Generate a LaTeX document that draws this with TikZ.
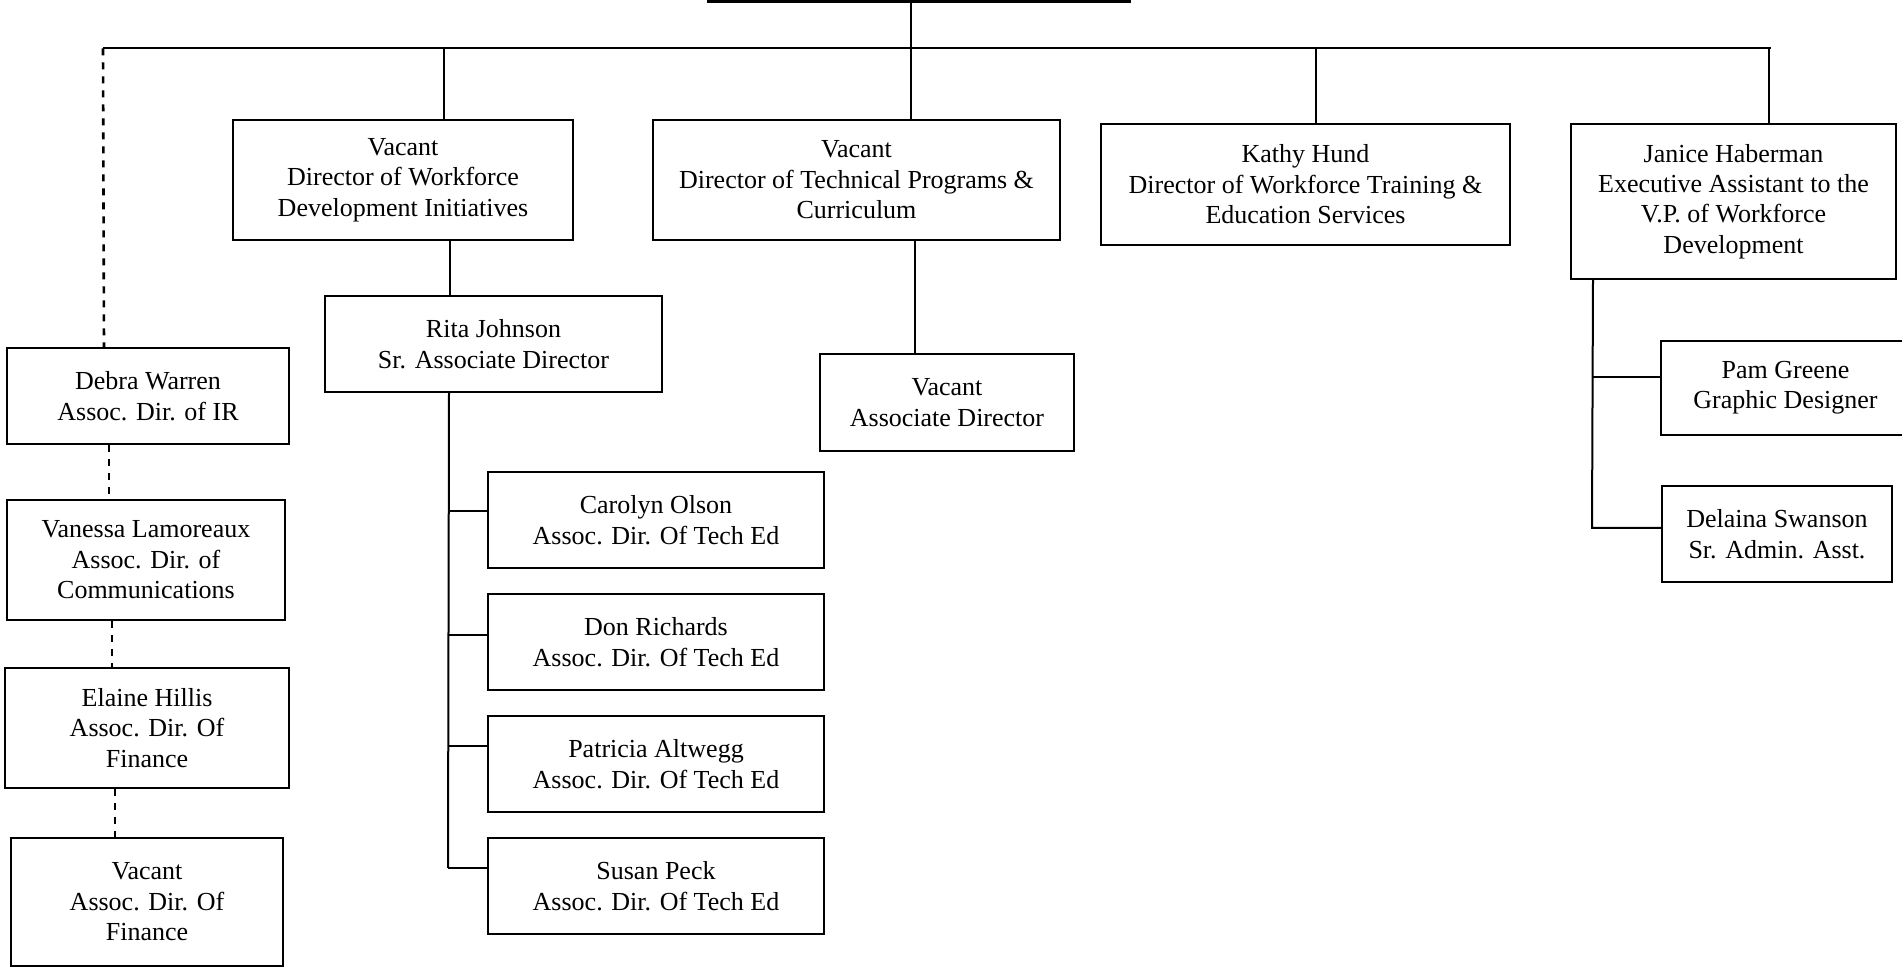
\documentclass[tikz,border=0pt]{standalone}
\usepackage{fontspec}
\setmainfont{Liberation Serif}
\usetikzlibrary{calc, positioning}

\begin{document}
\begin{tikzpicture}[x=0.5pt, y=-0.5pt,
    box/.style={draw, line width=1pt, align=center, inner sep=0pt,
      font=\fontsize{13}{15.2}\selectfont},
    link/.style={line width=1pt},
    dotlink/.style={line width=1.3pt, dash pattern=on 3.5pt off 3.5pt}]
    \useasboundingbox (0,0) rectangle (1902,967);

    % Top box (cut off)
    \node[draw, line width=3pt, minimum width=209pt, minimum height=40pt] (vp) at (919,-40) {};

    % Directors
    \node[box, minimum width=170pt, minimum height=60pt] (dwdi) at (403,180) {Vacant\\Director of Workforce\\Development Initiatives};
    \node[box, minimum width=203.5pt, minimum height=60pt] (dtech) at (856.5,180) {Vacant\\Director of Technical Programs \&\\Curriculum};
    \node[box, minimum width=204.5pt, minimum height=60.5pt] (kathy) at (1305.5,184.5) {Kathy Hund\\Director of Workforce Training \&\\Education Services};
    \node[box, minimum width=162.5pt, minimum height=77.5pt] (janice) at (1733.5,201.5) {Janice Haberman\\Executive Assistant to the\\V.P. of Workforce\\Development};

    % Second level
    \node[box, minimum width=168.5pt, minimum height=48pt] (rita) at (493.5,344) {Rita Johnson\\Sr. Associate Director};
    \node[box, minimum width=127pt, minimum height=48.5pt] (vacad) at (947,402.5) {Vacant\\Associate Director};

    % Left column
    \node[box, minimum width=141pt, minimum height=48pt] (debra) at (148,396) {Debra Warren\\Assoc. Dir. of IR};
    \node[box, minimum width=139pt, minimum height=60pt] (vanessa) at (146,560) {Vanessa Lamoreaux\\Assoc. Dir. of\\Communications};
    \node[box, minimum width=142pt, minimum height=60pt] (elaine) at (147,728) {Elaine Hillis\\Assoc. Dir. Of\\Finance};
    \node[box, minimum width=136pt, minimum height=64pt] (vacfin) at (147,902) {Vacant\\Assoc. Dir. Of\\Finance};

    % Tech Ed column
    \node[box, minimum width=168pt, minimum height=48pt] (carolyn) at (656,520) {Carolyn Olson\\Assoc. Dir. Of Tech Ed};
    \node[box, minimum width=168pt, minimum height=48pt, below=12pt of carolyn] (don) {Don Richards\\Assoc. Dir. Of Tech Ed};
    \node[box, minimum width=168pt, minimum height=48pt, below=12pt of don] (patricia) {Patricia Altwegg\\Assoc. Dir. Of Tech Ed};
    \node[box, minimum width=168pt, minimum height=48pt, below=12pt of patricia] (susan) {Susan Peck\\Assoc. Dir. Of Tech Ed};

    % Right column
    \node[box, minimum width=124.5pt, minimum height=47pt] (pam) at (1785.5,388) {Pam Greene\\Graphic Designer};
    \node[box, minimum width=115pt, minimum height=48pt] (delaina) at (1777,534) {Delaina Swanson\\Sr. Admin. Asst.};

    % Stems
    \coordinate (busL) at (103,48.5);
    \coordinate (busR) at (1771,48.5);
    \coordinate (xa) at (444,0);
    \coordinate (xb) at (911,0);
    \coordinate (xc) at (1316,0);
    \coordinate (xd) at (1769,0);
    \coordinate (xf) at (450,0);
    \coordinate (xg) at (915,0);
    \coordinate (xh) at (449,0);
    \coordinate (xi) at (1593,0);

    % Bus and drops
    \draw[link] (busL) -- (busR);
    \draw[link] (vp.south -| xb) -- (dtech.north -| xb);
    \draw[link] (busL -| xa) -- (dwdi.north -| xa);
    \draw[link] (busL -| xc) -- (kathy.north -| xc);
    \draw[link] (busL -| xd) -- (janice.north -| xd);
    \draw[link] (dwdi.south -| xf) -- (rita.north -| xf);
    \draw[link] (dtech.south -| xg) -- (vacad.north -| xg);

    % Dashed chain
    \draw[dotlink] (busL) -- ($(debra.north)+(-44,0)$);
    \draw[dotlink] ($(debra.south)+(-39,0)$) -- ($(vanessa.north)+(-37,0)$);
    \draw[dotlink] ($(vanessa.south)+(-34,0)$) -- ($(elaine.north)+(-35,0)$);
    \draw[dotlink] ($(elaine.south)+(-32,0)$) -- ($(vacfin.north)+(-32,0)$);

    % Rita's branches
    \draw[link] (rita.south -| xh) -- ($(susan.west)+(-39,-18)$);
    \foreach \n/\dy in {carolyn/-9, don/-7, patricia/-18, susan/-18}
      \draw[link] ($(\n.west)+(0,\dy)$) -- ++(-39,0);

    % Janice's branches
    \draw[link] (janice.south -| xi) -- ($(delaina.west)+(-69,-6)$) -- ($(delaina.west)+(0,-6)$);
    \draw[link] ($(pam.west)+(0,-11)$) -- ++(-68,0);
\end{tikzpicture}
\end{document}
